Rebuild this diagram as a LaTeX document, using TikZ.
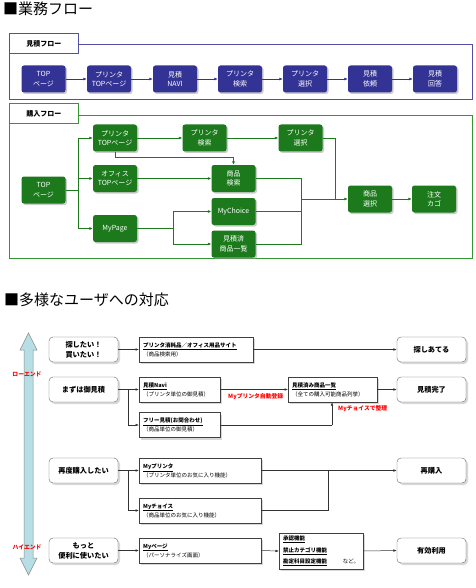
\documentclass[tikz,border=0pt]{standalone}
\usepackage{fontspec}
\newfontfamily\cjk{Noto Sans CJK JP}
\usetikzlibrary{arrows.meta,shadows}
\definecolor{navy}{RGB}{51,51,150}
\definecolor{navyline}{RGB}{80,80,165}
\definecolor{gfill}{RGB}{28,122,28}
\definecolor{gline}{RGB}{50,150,50}
\definecolor{abl}{RGB}{182,222,228}
\begin{document}
\begin{tikzpicture}[x=1pt,y=-1pt,
  fbox/.style={rounded corners=2.5pt, minimum width=44pt, minimum height=27pt, inner sep=0pt,
    align=center, text=white, font=\cjk\fontsize{7}{9.5}\selectfont,
    drop shadow={shadow xshift=1.5pt, shadow yshift=-1.5pt, fill=black!40}},
  navbox/.style={fbox, fill=navy},
  grbox/.style={fbox, fill=gfill},
  hdr/.style={draw, fill=white, minimum width=69pt, minimum height=20pt, inner sep=0pt,
    font=\cjk\bfseries\fontsize{7}{8}\selectfont, anchor=north west},
  nl/.style={draw=navy, line width=0.6pt, -{Latex[length=3.5pt,width=3pt]}},
  gl/.style={draw=gfill, line width=0.6pt},
  ga/.style={gl, -{Latex[length=3.5pt,width=3pt]}},
  rbox/.style={draw=black!60, fill=white, rounded corners=4pt, minimum width=69pt, minimum height=25pt,
    inner sep=0pt, align=center, font=\cjk\bfseries\fontsize{7.2}{10}\selectfont,
    drop shadow={shadow xshift=2pt, shadow yshift=-2pt, fill=black!30}},
  sbox/.style={draw=black!75, fill=white, inner xsep=4pt, inner ysep=0pt, minimum height=25pt,
    align=left, anchor=west, font=\cjk\fontsize{5.5}{9}\selectfont,
    drop shadow={shadow xshift=2pt, shadow yshift=-2pt, fill=black!30}},
  bl/.style={draw=black!80, line width=0.5pt},
  ba/.style={bl, -{Latex[length=3.5pt,width=2.6pt]}},
  redl/.style={text=red, font=\cjk\bfseries\fontsize{5.8}{7}\selectfont, inner sep=0pt},
  ttl/.style={anchor=west, inner sep=0pt, font=\cjk\fontsize{15}{16}\selectfont}
]
\useasboundingbox (0,0) rectangle (475,588);
\fill[white] (0,0) rectangle (475,588);

% ---------- titles
\node[ttl] (t1) at (3,9) {■業務フロー};
\node[ttl] (t2) at (4,300) {■多様なユーザへの対応};

% ---------- 見積フロー
\draw[navyline, line width=0.8pt] (9,44) rectangle (472,99);
\node[hdr, draw=navyline, line width=0.8pt] (h1) at (9,33) {見積フロー};
\node[navbox] (m1) at (43.5,79) {TOP\\ページ};
\node[navbox] (m2) at (109,79) {プリンタ\\TOPページ};
\node[navbox] (m3) at (175,79) {見積\\NAVI};
\node[navbox] (m4) at (240,79) {プリンタ\\検索};
\node[navbox] (m5) at (305,79) {プリンタ\\選択};
\node[navbox] (m6) at (370,79) {見積\\依頼};
\node[navbox] (m7) at (435,79) {見積\\回答};
\foreach \a/\b in {m1/m2,m2/m3,m3/m4,m4/m5,m5/m6,m6/m7}
  \draw[nl] (\a.east) -- (\b.west);

% ---------- 購入フロー
\draw[gline, line width=0.8pt] (9,115) rectangle (472,258);
\node[hdr, draw=gline, line width=0.8pt] (h2) at (9,103) {購入フロー};
\node[grbox] (g1) at (43.5,190) {TOP\\ページ};
\node[grbox] (g2) at (115,138) {プリンタ\\TOPページ};
\node[grbox] (g3) at (115,178.5) {オフィス\\TOPページ};
\node[grbox] (g4) at (115,228.5) {MyPage};
\node[grbox] (g5) at (204.5,138) {プリンタ\\検索};
\node[grbox] (g6) at (233.5,178.5) {商品\\検索};
\node[grbox] (g7) at (233.5,211.5) {MyChoice};
\node[grbox] (g8) at (233.5,244) {見積済\\商品一覧};
\node[grbox] (g9) at (300.5,138) {プリンタ\\選択};
\node[grbox] (g10) at (370,199) {商品\\選択};
\node[grbox] (g11) at (434,199) {注文\\カゴ};
\coordinate (j1) at (78,190);
\coordinate (j2) at (173,228.5);
\coordinate (j3) at (301,199);
\coordinate (j4) at (335,199);
\draw[gl] (g1.east) -- (j1);
\draw[ga] (j1) |- (g2.west);
\draw[ga] (j1) |- (g3.west);
\draw[ga] (j1) |- (g4.west);
\draw[ga] (g2.east) -- (g5.west);
\draw[ga] (g5.east) -- (g9.west);
\draw[ga] (g2.south) -- ++(0,6) -| (g6.north);
\draw[ga] (g3.east) -- (g6.west);
\draw[gl] (g4.east) -- (j2);
\draw[ga] (j2) |- (g7.west);
\draw[ga] (j2) |- (g8.west);
\draw[gl] (g6.east) -| (j3);
\draw[gl] (g7.east) -| (j3);
\draw[gl] (g8.east) -| (j3);
\draw[gl] (g9.east) -| (j4);
\draw[ga] (j3) -- (g10.west);
\draw[ga] (g10.east) -- (g11.west);

% ---------- big double arrow
\draw[fill=abl, draw=black!45, line width=0.5pt]
  (28.5,333) -- (37,350) -- (33,350) -- (33,558) -- (37,558) -- (28.5,575)
  -- (20,558) -- (24,558) -- (24,350) -- (20,350) -- cycle;
\node[redl] (lo) at (27,374) {ローエンド};
\node[redl] (hi) at (27,547) {ハイエンド};

% ---------- left rounded boxes
\node[rbox] (u1) at (83.5,349.5) {探したい！\\買いたい！};
\node[rbox] (u2) at (83.5,389.5) {まずは御見積};
\node[rbox] (u3) at (83.5,470.5) {再度購入したい};
\node[rbox] (u4) at (83.5,550.5) {もっと\\便利に使いたい};

% ---------- right rounded boxes
\node[rbox] (r1) at (431.5,349.5) {探しあてる};
\node[rbox] (r2) at (431.5,389.5) {見積完了};
\node[rbox] (r3) at (431.5,470.5) {再購入};
\node[rbox] (r4) at (431.5,550.5) {有効利用};

% ---------- middle square boxes
\node[sbox, text width=106pt] (s1) at (139,349.5)
  {\textbf{\underline{プリンタ消耗品／オフィス用品サイト}}\\（商品検索用）};
\node[sbox, text width=73pt] (s2) at (139,389.5)
  {\textbf{\underline{見積Navi}}\\（プリンタ単位の御見積）};
\node[sbox, text width=73pt] (s3) at (139,425)
  {\textbf{\underline{フリー見積(お問合わせ)}}\\（商品単位の御見積）};
\node[sbox, text width=81pt] (s4) at (288,389.5)
  {\textbf{\underline{見積済み商品一覧}}\\（全ての購入可能商品列挙）};
\node[sbox, text width=114pt] (s5) at (139,470.5)
  {\textbf{\underline{Myプリンタ}}\\（プリンタ単位のお気に入り機能）};
\node[sbox, text width=114pt] (s6) at (139,510.5)
  {\textbf{\underline{Myチョイス}}\\（商品単位のお気に入り機能）};
\node[sbox, text width=114pt] (s7) at (139,550.5)
  {\textbf{\underline{Myページ}}\\（パーソナライズ画面）};
\node[sbox, text width=76pt, minimum height=36pt, font=\cjk\bfseries\fontsize{5.5}{11.5}\selectfont] (s8) at (279,551)
  {\underline{承認機能}\\\underline{禁止カテゴリ機能}\\\underline{勘定科目設定機能}\hfill{\mdseries\itshape など。}};

% ---------- connectors
\coordinate (k1) at (128,389.5);
\coordinate (k2) at (128,470.5);
\coordinate (k3) at (332,425);
\coordinate (k4) at (328,470.5);
\draw[ba] (u1.east) -- (s1.west);
\draw[ba] (s1.east) -- (r1.west);
\draw[ba] (u2.east) -- (s2.west);
\draw[ba] (k1) |- (s3.west);
\draw[ba] (s2.east) -- (s4.west);
\draw[bl] (s3.east) -- (k3);
\draw[ba] (k3) -- (k3 |- s4.south);
\draw[ba] (s4.east) -- (r2.west);
\draw[ba] (u3.east) -- (s5.west);
\draw[ba] (k2) |- (s6.west);
\draw[ba] (s5.east) -- (r3.west);
\draw[bl] (s6.east) -| (k4);
\draw[ba] (u4.east) -- (s7.west);
\draw[ba] (s7.east) -- (s8.west);
\draw[ba] (s8.east) -- (r4.west);

\node[redl, anchor=west] (lab1) at (228,397) {Myプリンタ自動登録};
\node[redl, anchor=west] (lab2) at (338,408.5) {Myチョイスで整理};
\end{tikzpicture}
\end{document}
